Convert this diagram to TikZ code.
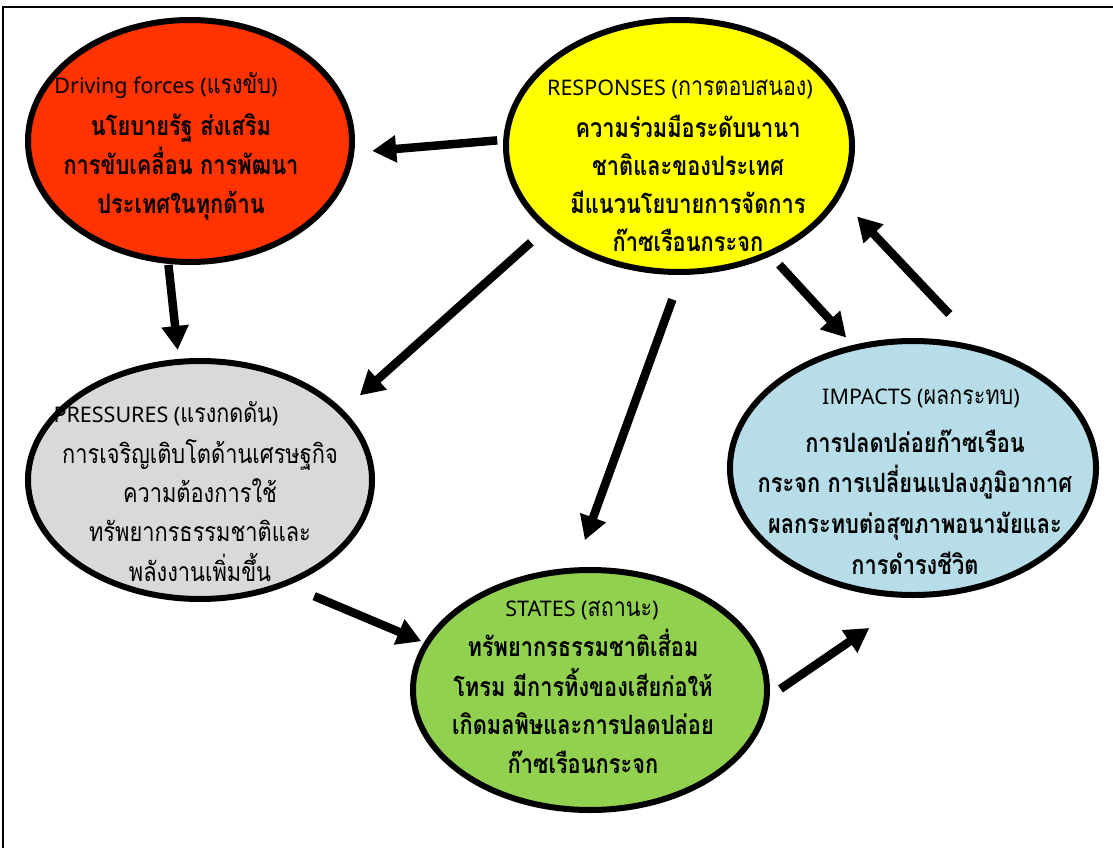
\documentclass[tikz,border=0pt]{standalone}
\usepackage{fontspec}
\usepackage{graphicx}
\setmainfont[Script=Thai]{Loma}
\newfontfamily\lat{Noto Sans}
\usetikzlibrary{arrows.meta,shapes.geometric}
\definecolor{cdrive}{HTML}{FF3300}
\definecolor{cresp}{HTML}{FFFF00}
\definecolor{cpress}{HTML}{D9D9D9}
\definecolor{cimp}{HTML}{B7DEE8}
\definecolor{cstate}{HTML}{92D050}
\newcommand{\tall}[1]{\scalebox{1}[1.22]{#1}}
\newcommand{\tallblock}[2]{\scalebox{1}[1.22]{\fontsize{21.8}{#1}\selectfont\begin{tabular}{@{}c@{}}#2\end{tabular}}}
\begin{document}
\begin{tikzpicture}[x=1pt,y=-1pt,
  bubble/.style={ellipse, draw=black, line width=6pt, inner sep=0pt},
  arr/.style={line width=8.5pt, -{Triangle[length=24pt,width=26pt]}},
  ttl/.style={font=\fontsize{21.5}{24}\selectfont, inner sep=0pt},
  bdy/.style={font=\bfseries\fontsize{21.8}{30}\selectfont, inner sep=0pt},
  bdyr/.style={font=\fontsize{21.8}{30}\selectfont, inner sep=0pt}]
\useasboundingbox (0,0) rectangle (1113,848);
\fill[white] (0,0) rectangle (1113,848);
\draw[line width=2pt] (3,900) -- (3,7) -- (1200,7);
% ellipses
\node[bubble, fill=cdrive, minimum width=324pt, minimum height=242pt] (drive) at (190,141) {};
\node[bubble, fill=cresp, minimum width=346pt, minimum height=252pt] (resp) at (679,146) {};
\node[bubble, fill=cpress, minimum width=344pt, minimum height=238pt] (press) at (200,480) {};
\node[bubble, fill=cimp, minimum width=366pt, minimum height=254pt] (imp) at (913,468) {};
\node[bubble, fill=cstate, minimum width=354pt, minimum height=240pt] (states) at (590,690) {};
% arrows
\draw[arr, shorten <=6pt, shorten >=18pt] (resp.178) -- (drive.-4);
\draw[arr, shorten <=1pt, shorten >=9pt] (drive.-100) -- (press.100);
\draw[arr, shorten <=19pt, shorten >=22pt] (resp.-148) -- (press.26);
\draw[arr, shorten <=26pt, shorten >=29pt] (resp.-89) -- (states.97);
\draw[arr, shorten <=12pt, shorten >=10pt] (resp.-50) -- (imp.116);
\draw[arr, shorten <=45pt, shorten >=25pt] (imp.61) -- (resp.-18);
\draw[arr, shorten <=28pt, shorten >=3pt] (press.-50) -- (states.164);
\draw[arr, shorten <=13pt, shorten >=53pt] (states.-2) -- (imp.-90);
% texts
\node[ttl] (drivet) at (166,86) {{\lat Driving forces (}\tall{แรงขับ}{\lat )}};
\node[bdy] (driveb) at (181,167) {\tallblock{31.6}{นโยบายรัฐ ส่งเสริม\\การขับเคลื่อน การพัฒนา\\ประเทศในทุกด้าน}};
\node[ttl] (respt) at (680,89) {{\lat RESPONSES (}\tall{การตอบสนอง}{\lat )}};
\node[bdy] (respb) at (688,187) {\tallblock{31}{ความร่วมมือระดับนานา\\ชาติและของประเทศ\\มีแนวนโยบายการจัดการ\\ก๊าซเรือนกระจก}};
\node[ttl] (presst) at (166,414) {{\lat PRESSURES (}\tall{แรงกดดัน}{\lat )}};
\node[bdyr] (pressb) at (200,515) {\tallblock{32}{การเจริญเติบโตด้านเศรษฐกิจ\\ความต้องการใช้\\ทรัพยากรธรรมชาติและ\\พลังงานเพิ่มขึ้น}};
\node[ttl] (impt) at (921,398) {{\lat IMPACTS (}\tall{ผลกระทบ}{\lat )}};
\node[bdy] (impb) at (915,505) {\tallblock{33.4}{การปลดปล่อยก๊าซเรือน\\กระจก การเปลี่ยนแปลงภูมิอากาศ\\ผลกระทบต่อสุขภาพอนามัยและ\\การดำรงชีวิต}};
\node[ttl] (statest) at (582,610) {{\lat STATES (}\tall{สถานะ}{\lat )}};
\node[bdy] (statesb) at (583,707) {\tallblock{31.4}{ทรัพยากรธรรมชาติเสื่อม\\โทรม มีการทิ้งของเสียก่อให้\\เกิดมลพิษและการปลดปล่อย\\ก๊าซเรือนกระจก}};
\end{tikzpicture}
\end{document}
